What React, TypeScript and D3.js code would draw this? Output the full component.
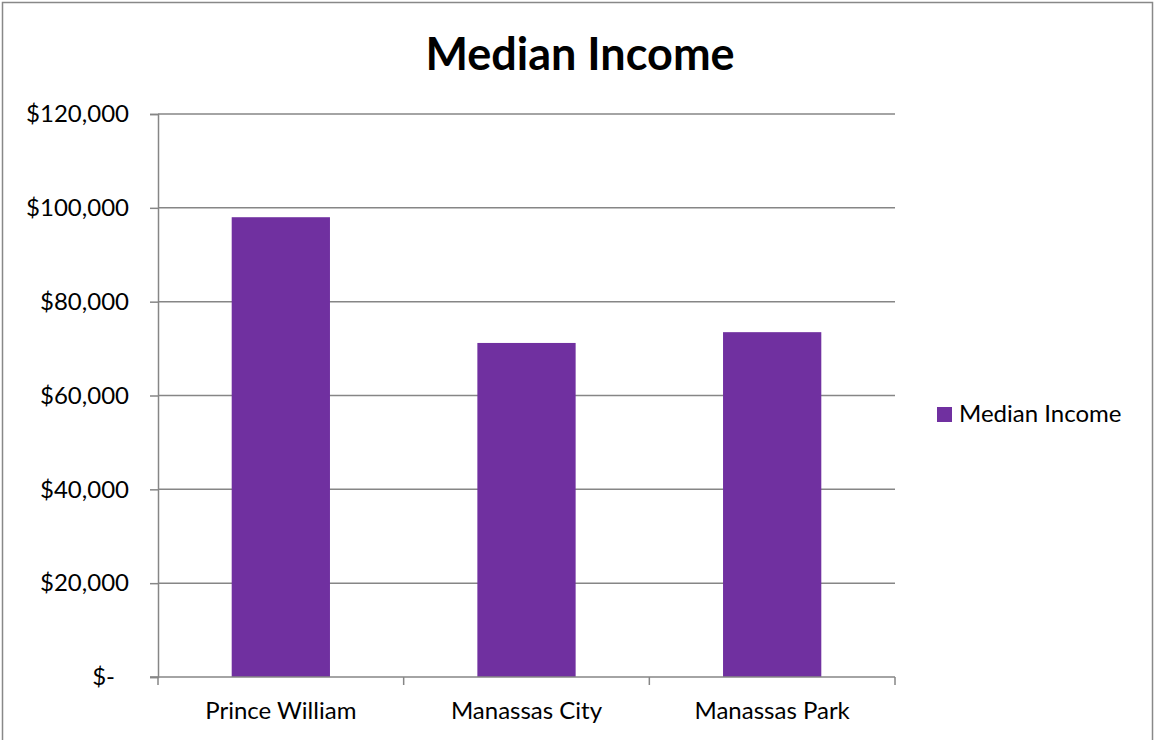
import React, { useEffect, useRef } from 'react';
import * as d3 from 'd3';

const categories = ['Prince William', 'Manassas City', 'Manassas Park'];
const incomeValues = [98000, 71200, 73500];
const seriesName = 'Median Income';
const yTicks = [0, 20000, 40000, 60000, 80000, 100000, 120000];

const W = 1155;
const H = 740;
const FONT = "Lato, 'Open Sans', 'Noto Sans', sans-serif";
const BAR = '#7030a0';
const AXIS = '#868686';

const App: React.FC = () => {
  const svgRef = useRef<SVGSVGElement>(null);

  useEffect(() => {
    document.body.style.margin = '0';
    if (!svgRef.current) return;
    const svg = d3.select(svgRef.current);
    svg.selectAll('*').remove();

    const left = 158, right = 895, top = 114, bottom = 677;

    svg.append('rect')
      .attr('x', 2.5).attr('y', 2.5)
      .attr('width', W - 5).attr('height', H + 10)
      .attr('fill', '#fff').attr('stroke', '#888').attr('stroke-width', 1.5);

    const x = d3.scaleBand<string>().domain(categories).range([left, right]).paddingInner(0.6).paddingOuter(0.3);
    const band = d3.scaleBand<string>().domain(categories).range([left, right]);
    const y = d3.scaleLinear().domain([0, 120000]).range([bottom, top]);

    // gridlines
    svg.append('g').selectAll('line')
      .data(yTicks.filter(d => d > 0))
      .join('line')
      .attr('x1', left).attr('x2', right)
      .attr('y1', d => y(d)).attr('y2', d => y(d))
      .attr('stroke', AXIS).attr('stroke-width', 1.5);

    // y axis
    const yAxis = d3.axisLeft(y)
      .tickValues(yTicks)
      .tickSize(8)
      .tickPadding(21)
      .tickFormat(d => (+d === 0 ? '$-' : '$' + d3.format(',')(+d)));
    const gy = svg.append('g').attr('transform', `translate(${left},0)`).call(yAxis);
    gy.select('.domain').attr('stroke', AXIS).attr('stroke-width', 1.5);
    gy.selectAll('.tick line').attr('stroke', AXIS).attr('stroke-width', 1.5);
    gy.selectAll('.tick text')
      .attr('font-family', FONT).attr('font-size', 24).attr('fill', '#000')
      .attr('dx', (d: any) => (+d === 0 ? -14 : 0));

    // bars
    svg.append('g').selectAll('rect')
      .data(categories)
      .join('rect')
      .attr('x', d => x(d)!)
      .attr('width', x.bandwidth())
      .attr('y', (d, i) => y(incomeValues[i]))
      .attr('height', (d, i) => y(0) - y(incomeValues[i]))
      .attr('fill', BAR);

    // x axis
    svg.append('line')
      .attr('x1', left - 8).attr('x2', right)
      .attr('y1', bottom).attr('y2', bottom)
      .attr('stroke', AXIS).attr('stroke-width', 1.5);
    const bounds = [...categories.map(c => band(c)!), right];
    svg.append('g').selectAll('line')
      .data(bounds)
      .join('line')
      .attr('x1', d => d).attr('x2', d => d)
      .attr('y1', bottom).attr('y2', bottom + 8)
      .attr('stroke', AXIS).attr('stroke-width', 1.5);
    svg.append('g').selectAll('text')
      .data(categories)
      .join('text')
      .attr('x', d => band(d)! + band.bandwidth() / 2)
      .attr('y', 719)
      .attr('text-anchor', 'middle')
      .attr('font-family', FONT).attr('font-size', 24).attr('fill', '#000')
      .text(d => d);

    // title
    svg.append('text')
      .attr('x', 580).attr('y', 70)
      .attr('text-anchor', 'middle')
      .attr('font-family', FONT).attr('font-size', 45).attr('font-weight', 'bold').attr('fill', '#000')
      .text(seriesName);

    // legend
    svg.append('rect')
      .attr('x', 937).attr('y', 407).attr('width', 15).attr('height', 15).attr('fill', BAR);
    svg.append('text')
      .attr('x', 959).attr('y', 422)
      .attr('font-family', FONT).attr('font-size', 24).attr('fill', '#000')
      .text(seriesName);
  }, []);

  return <svg ref={svgRef} width={W} height={H} style={{ display: 'block' }} />;
};

export default App;
